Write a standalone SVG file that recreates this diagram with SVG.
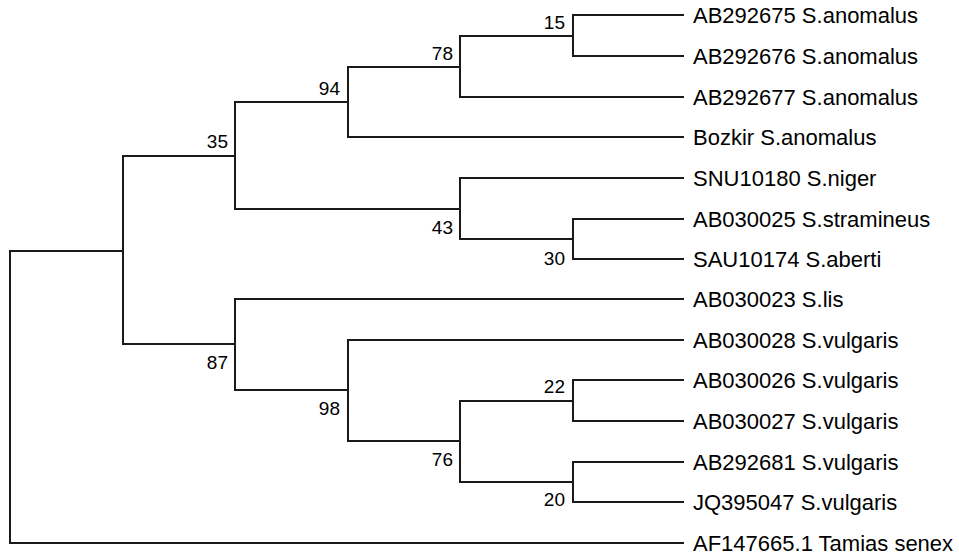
<svg xmlns="http://www.w3.org/2000/svg" width="959" height="558" viewBox="0 0 959 558">
  <style>
    .br { fill: none; stroke: #1a1a1a; stroke-width: 2; stroke-linecap: square; }
    .leaf { font-family: "Liberation Sans", Arial, sans-serif; font-size: 22px; fill: #000; }
    .bs { font-family: "Liberation Sans", Arial, sans-serif; font-size: 19px; fill: #000; text-anchor: end; }
  </style>
  <rect width="959" height="558" fill="#fff"/>

  <!-- tree branches: vertical bars at each split plus horizontal edges to children -->
  <g id="connectors" class="br">
    <!-- root -->
    <path d="M10 251 V543 M10 251 H123 M10 543 H683"/>
    <!-- split at x=123 -->
    <path d="M123 156 V344 M123 156 H235 M123 344 H235"/>
    <!-- node 35 -->
    <path d="M235 102 V209 M235 102 H348 M235 209 H460"/>
    <!-- node 94 -->
    <path d="M348 67 V137 M348 67 H460 M348 137 H683"/>
    <!-- node 78 -->
    <path d="M460 36 V97 M460 36 H573 M460 97 H683"/>
    <!-- node 15 -->
    <path d="M573 15 V56 M573 15 H683 M573 56 H683"/>
    <!-- node 43 -->
    <path d="M460 178 V239 M460 178 H683 M460 239 H573"/>
    <!-- node 30 -->
    <path d="M573 219 V259 M573 219 H683 M573 259 H683"/>
    <!-- node 87 -->
    <path d="M235 299 V390 M235 299 H683 M235 390 H348"/>
    <!-- node 98 -->
    <path d="M348 340 V441 M348 340 H683 M348 441 H460"/>
    <!-- node 76 -->
    <path d="M460 401 V482 M460 401 H573 M460 482 H573"/>
    <!-- node 22 -->
    <path d="M573 380 V421 M573 380 H683 M573 421 H683"/>
    <!-- node 20 -->
    <path d="M573 462 V502 M573 462 H683 M573 502 H683"/>
  </g>

  <!-- internal nodes with bootstrap values -->
  <g id="node-root"/>
  <g id="node-ingroup"/>
  <g id="node-35"><text class="bs" x="228" y="148">35</text></g>
  <g id="node-94"><text class="bs" x="340" y="95">94</text></g>
  <g id="node-78"><text class="bs" x="453" y="60">78</text></g>
  <g id="node-15"><text class="bs" x="565" y="28.5">15</text></g>
  <g id="node-43"><text class="bs" x="453" y="233.5">43</text></g>
  <g id="node-30"><text class="bs" x="565" y="265">30</text></g>
  <g id="node-87"><text class="bs" x="228" y="368.5">87</text></g>
  <g id="node-98"><text class="bs" x="340" y="414.5">98</text></g>
  <g id="node-76"><text class="bs" x="453" y="465.5">76</text></g>
  <g id="node-22"><text class="bs" x="565" y="393">22</text></g>
  <g id="node-20"><text class="bs" x="565" y="506">20</text></g>

  <!-- terminal taxa -->
  <g id="leaf-AB292675"><text class="leaf" x="693" y="22.7">AB292675 S.anomalus</text></g>
  <g id="leaf-AB292676"><text class="leaf" x="693" y="63.7">AB292676 S.anomalus</text></g>
  <g id="leaf-AB292677"><text class="leaf" x="693" y="104.5">AB292677 S.anomalus</text></g>
  <g id="leaf-Bozkir"><text class="leaf" x="693" y="144.7">Bozkir S.anomalus</text></g>
  <g id="leaf-SNU10180"><text class="leaf" x="693" y="185.5">SNU10180 S.niger</text></g>
  <g id="leaf-AB030025"><text class="leaf" x="693" y="226.5">AB030025 S.stramineus</text></g>
  <g id="leaf-SAU10174"><text class="leaf" x="693" y="266.5">SAU10174 S.aberti</text></g>
  <g id="leaf-AB030023"><text class="leaf" x="693" y="306.5">AB030023 S.lis</text></g>
  <g id="leaf-AB030028"><text class="leaf" x="693" y="347.5">AB030028 S.vulgaris</text></g>
  <g id="leaf-AB030026"><text class="leaf" x="693" y="387.5">AB030026 S.vulgaris</text></g>
  <g id="leaf-AB030027"><text class="leaf" x="693" y="428.5">AB030027 S.vulgaris</text></g>
  <g id="leaf-AB292681"><text class="leaf" x="693" y="469.5">AB292681 S.vulgaris</text></g>
  <g id="leaf-JQ395047"><text class="leaf" x="693" y="509.5">JQ395047 S.vulgaris</text></g>
  <g id="leaf-AF147665"><text class="leaf" x="693" y="550.5">AF147665.1 Tamias senex</text></g>
</svg>
